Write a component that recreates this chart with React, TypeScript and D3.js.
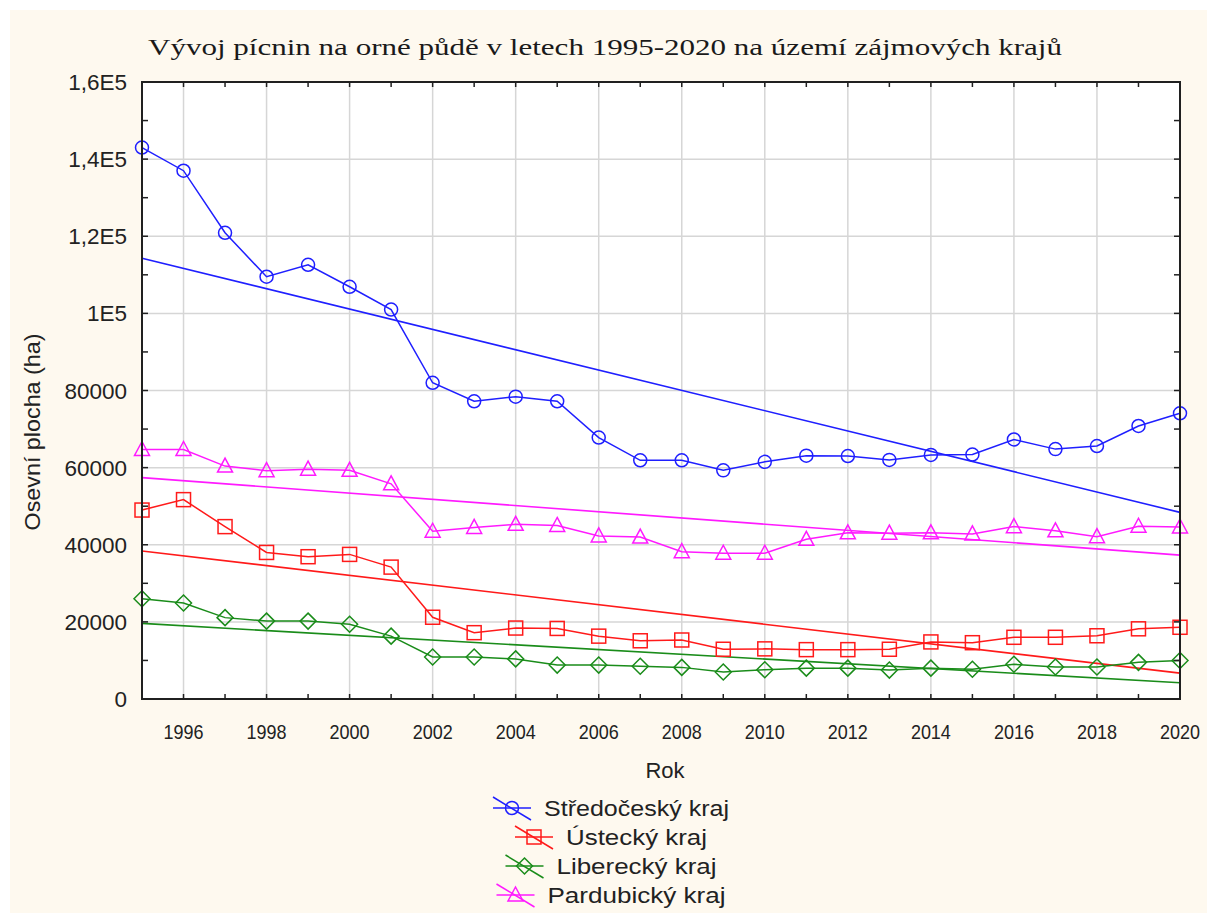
import React from 'react'
import * as d3 from 'd3'

const width = 1207
const height = 913

const years = [1995, 1996, 1997, 1998, 1999, 2000, 2001, 2002, 2003, 2004, 2005, 2006, 2007, 2008, 2009, 2010, 2011, 2012, 2013, 2014, 2015, 2016, 2017, 2018, 2019, 2020]

const stredocesky = [143000, 137000, 120900, 109500, 112600, 106900, 101000, 82000, 77200, 78400, 77200, 67800, 61900, 61900, 59300, 61500, 63100, 63000, 62000, 63300, 63400, 67300, 64800, 65600, 70800, 74100]
const ustecky = [49000, 51700, 44700, 38000, 36900, 37500, 34200, 21200, 17200, 18400, 18300, 16300, 15100, 15300, 12900, 13000, 12800, 12800, 12900, 14800, 14600, 16000, 16000, 16400, 18200, 18600]
const liberecky = [26000, 24900, 21100, 20200, 20200, 19400, 16300, 10900, 10900, 10400, 8800, 8800, 8500, 8200, 7000, 7600, 8000, 8000, 7500, 8000, 7700, 9000, 8300, 8300, 9500, 10000]
const pardubicky = [64700, 64700, 60400, 59200, 59600, 59300, 55800, 43500, 44500, 45300, 45000, 42300, 42000, 38200, 37800, 37800, 41400, 43100, 43000, 43100, 42800, 44700, 43600, 42100, 44800, 44600]

// linear fit lines, value at 1995 and at 2020
const trendStredocesky = [114300, 48400]
const trendUstecky = [38400, 6700]
const trendLiberecky = [19600, 4200]
const trendPardubicky = [57400, 37300]

const seriesNames = ['Středočeský kraj', 'Ústecký kraj', 'Liberecký kraj', 'Pardubický kraj']
const seriesColors = ['#1f1fff', '#ff1a1a', '#1a8c1a', '#ff1aff']
const seriesMarkers = ['circle', 'square', 'diamond', 'triangle']

const xTicks = [1996, 1998, 2000, 2002, 2004, 2006, 2008, 2010, 2012, 2014, 2016, 2018, 2020]
const yTicks = [0, 20000, 40000, 60000, 80000, 100000, 120000, 140000, 160000]
const yTickLabels = ['0', '20000', '40000', '60000', '80000', '1E5', '1,2E5', '1,4E5', '1,6E5']
const yMinorTicks = [10000, 30000, 50000, 70000, 90000, 110000, 130000, 150000]

const title = 'Vývoj pícnin na orné půdě v letech 1995-2020 na území zájmových krajů'

const margin = { left: 142, right: 1180, top: 82, bottom: 699 }

function Marker({ type, x, y, color }) {
  if (type === 'circle') return <circle cx={x} cy={y} r={6.5} fill="none" stroke={color} strokeWidth={1.5} />
  if (type === 'square') return <rect x={x - 7} y={y - 7} width={14} height={14} fill="none" stroke={color} strokeWidth={1.5} />
  if (type === 'diamond')
    return <path d={`M${x},${y - 8}L${x + 8},${y}L${x},${y + 8}L${x - 8},${y}Z`} fill="none" stroke={color} strokeWidth={1.5} />
  return <path d={`M${x},${y - 8}L${x + 7.5},${y + 6}L${x - 7.5},${y + 6}Z`} fill="none" stroke={color} strokeWidth={1.5} />
}

export default function App() {
  const x = d3.scaleLinear().domain([1995, 2020]).range([margin.left, margin.right])
  const y = d3.scaleLinear().domain([0, 160000]).range([margin.bottom, margin.top])

  const allSeries = [stredocesky, ustecky, liberecky, pardubicky]
  const trends = [trendStredocesky, trendUstecky, trendLiberecky, trendPardubicky]

  const line = d3
    .line()
    .x((d) => x(d[0]))
    .y((d) => y(d[1]))

  const font = 'Arial, "Liberation Sans", sans-serif'
  const legendCenter = 611
  const legendRows = [808, 837, 866, 895]
  const legendTextW = [185, 141, 160, 178]

  return (
    <svg width={width} height={height} style={{ position: 'absolute', left: 0, top: 0 }}>
      <rect width={width} height={height} fill="#ffffff" />
      <rect x={10} y={10} width={width - 10} height={height - 10} fill="#fef9ef" />

      <text x={605} y={55} textAnchor="middle" fontFamily='"Liberation Serif", "Times New Roman", serif' fontSize={24} fill="#1a1a1a" textLength={914} lengthAdjust="spacingAndGlyphs">
        {title}
      </text>

      <rect x={margin.left} y={margin.top} width={margin.right - margin.left} height={margin.bottom - margin.top} fill="#ffffff" />

      {/* grid */}
      {xTicks.slice(0, -1).map((t) => (
        <line key={'gx' + t} x1={x(t)} x2={x(t)} y1={margin.top} y2={margin.bottom} stroke="#d6d6d6" strokeWidth={1.5} />
      ))}
      {yTicks.slice(1, -1).map((t) => (
        <line key={'gy' + t} x1={margin.left} x2={margin.right} y1={y(t)} y2={y(t)} stroke="#d6d6d6" strokeWidth={1.5} />
      ))}

      {/* trend lines */}
      {trends.map((tr, i) => (
        <line key={'tr' + i} x1={x(1995)} y1={y(tr[0])} x2={x(2020)} y2={y(tr[1])} stroke={seriesColors[i]} strokeWidth={1.6} />
      ))}

      {/* data lines */}
      {allSeries.map((s, i) => (
        <g key={'s' + i}>
          <path d={line(years.map((yr, j) => [yr, s[j]]))} fill="none" stroke={seriesColors[i]} strokeWidth={1.5} />
          {years.map((yr, j) => (
            <Marker key={yr} type={seriesMarkers[i]} x={x(yr)} y={y(s[j])} color={seriesColors[i]} />
          ))}
        </g>
      ))}

      {/* frame and ticks */}
      <rect x={margin.left} y={margin.top} width={margin.right - margin.left} height={margin.bottom - margin.top} fill="none" stroke="#202020" strokeWidth={2} />
      {years.slice(1, -1).map((t) => (
        <g key={'tx' + t}>
          <line x1={x(t)} x2={x(t)} y1={margin.bottom} y2={margin.bottom - 5} stroke="#202020" strokeWidth={1.5} />
          <line x1={x(t)} x2={x(t)} y1={margin.top} y2={margin.top + 5} stroke="#202020" strokeWidth={1.5} />
        </g>
      ))}
      {yTicks.slice(1, -1).concat(yMinorTicks).map((t) => (
        <g key={'ty' + t}>
          <line x1={margin.left} x2={margin.left + 6} y1={y(t)} y2={y(t)} stroke="#202020" strokeWidth={1.5} />
          <line x1={margin.right} x2={margin.right - 6} y1={y(t)} y2={y(t)} stroke="#202020" strokeWidth={1.5} />
        </g>
      ))}

      {/* tick labels */}
      {yTicks.map((t, i) => (
        <text key={'ly' + t} x={127} y={y(t) + 8} textAnchor="end" fontFamily={font} fontSize={22.5} fill="#222">
          {yTickLabels[i]}
        </text>
      ))}
      {xTicks.map((t) => (
        <text key={'lx' + t} x={x(t)} y={739} textAnchor="middle" fontFamily={font} fontSize={21} fill="#222" textLength={40} lengthAdjust="spacingAndGlyphs">
          {t}
        </text>
      ))}

      <text x={665} y={778} textAnchor="middle" fontFamily={font} fontSize={22} fill="#222">
        Rok
      </text>
      <text transform="translate(40,432) rotate(-90)" textAnchor="middle" fontFamily={font} fontSize={22} fill="#222" textLength={197} lengthAdjust="spacingAndGlyphs">
        Osevní plocha (ha)
      </text>

      {/* legend */}
      {seriesNames.map((name, i) => {
        const sampleW = 38
        const gap = 13
        const total = sampleW + gap + legendTextW[i]
        const x0 = legendCenter - total / 2
        const cy = legendRows[i]
        return (
          <g key={'lg' + i}>
            <line x1={x0} x2={x0 + sampleW} y1={cy} y2={cy} stroke={seriesColors[i]} strokeWidth={1.5} />
            <line x1={x0} x2={x0 + sampleW} y1={cy - 11} y2={cy + 12} stroke={seriesColors[i]} strokeWidth={1.5} />
            <Marker type={seriesMarkers[i]} x={x0 + sampleW / 2} y={cy} color={seriesColors[i]} />
            <text
              x={x0 + sampleW + gap}
              y={cy + 8}
              fontFamily={font}
              fontSize={22}
              fill="#222"
              textLength={legendTextW[i]}
              lengthAdjust="spacingAndGlyphs"
            >
              {name}
            </text>
          </g>
        )
      })}
    </svg>
  )
}
